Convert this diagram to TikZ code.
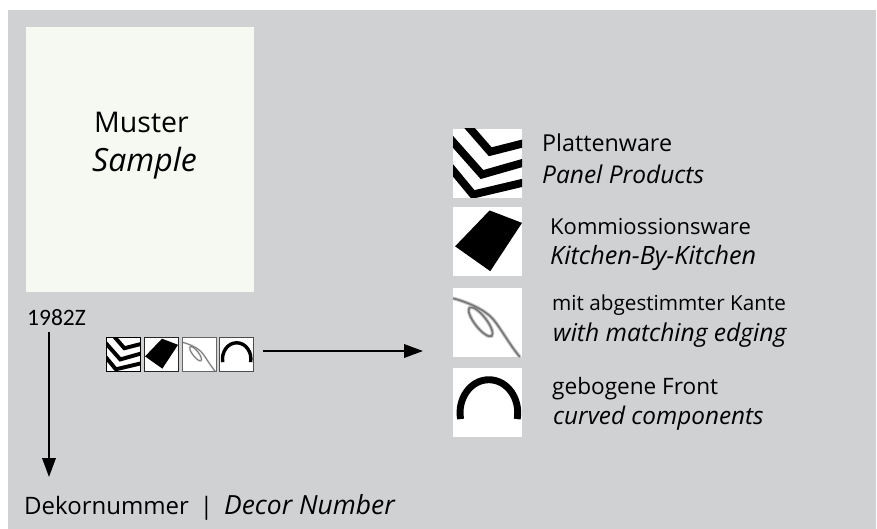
\documentclass[tikz,border=0pt]{standalone}
\usepackage{fontspec}
\setmainfont{Open Sans}
\newfontfamily\calib{Carlito}
\usetikzlibrary{arrows.meta}
\newcommand{\iconChev}[3]{\begin{scope}[shift={(#1,#2)},x=#3pt,y=-#3pt]
  \fill[white] (0,0) rectangle (1,1);
  \begin{scope}
  \clip (0,0) rectangle (1,1);
  \draw[black,line width=#3*0.115pt] (0.2,-0.06) -- (0.54,0.33) -- (1.05,0.2);
  \draw[black,line width=#3*0.115pt] (-0.05,0.13) -- (0.42,0.66) -- (1.05,0.48);
  \draw[black,line width=#3*0.115pt] (-0.05,0.54) -- (0.29,0.95) -- (1.05,0.77);
  \end{scope}
\end{scope}}
\newcommand{\iconKite}[3]{\begin{scope}[shift={(#1,#2)},x=#3pt,y=-#3pt]
  \fill[white] (0,0) rectangle (1,1);
  \fill[black] (0.53,0.05) -- (1,0.23) -- (0.54,0.93) -- (0.03,0.57) -- cycle;
\end{scope}}
\newcommand{\iconEdge}[3]{\begin{scope}[shift={(#1,#2)},x=#3pt,y=-#3pt]
  \fill[white] (0,0) rectangle (1,1);
  \foreach \c/\w in {edgehalo/0.055,edgegray/0.025}{
  \draw[\c,line width=#3*\w pt] (0,0.15) .. controls (0.2,0.2) and (0.42,0.3) .. (0.54,0.41) .. controls (0.66,0.52) and (0.8,0.8) .. (0.97,1);
  \draw[\c,line width=#3*\w pt,rotate around={-52:(0.4,0.49)}] (0.4,0.49) ellipse (0.26 and 0.085);
  }
\end{scope}}
\newcommand{\iconArc}[3]{\begin{scope}[shift={(#1,#2)},x=#3pt,y=-#3pt]
  \fill[white] (0,0) rectangle (1,1);
  \draw[black,line width=#3*0.1pt] (0.11,0.74) .. controls (0.06,0.45) and (0.25,0.17) .. (0.52,0.17) .. controls (0.79,0.17) and (0.98,0.45) .. (0.93,0.74);
\end{scope}}
\definecolor{bgray}{RGB}{208,209,211}
\definecolor{samplecol}{RGB}{246,249,241}
\definecolor{edgegray}{RGB}{120,120,120}
\definecolor{edgehalo}{RGB}{205,205,205}
\tikzset{
  lbl/.style={anchor=base west,inner sep=0pt,text=black},
  reg/.style={font=\fontsize{#1}{26}\selectfont},
  ita/.style={font=\fontsize{#1}{26}\selectfont\itshape},
  conn/.style={draw=black,line width=2pt,-{Triangle[length=19pt,width=13.5pt]}},
}
\begin{document}
\begin{tikzpicture}[x=1pt,y=-1pt]
\useasboundingbox (0,0) rectangle (877,529);
\fill[white] (0,0) rectangle (877,529);
\fill[bgray] (8,10) rectangle (876,529);
\fill[samplecol] (26,27) rectangle (254,292);
\node[lbl,reg=28.5] (muster) at (94,133) {Muster};
\node[lbl,ita=32] (sample) at (92,172) {Sample};
\node[lbl,font=\calib\fontsize{23.5}{26}\selectfont] (code) at (27,325) {1982Z};
\node[lbl,reg=24] (decor) at (24,514) {Dekornummer\hspace{11pt}|\hspace{11pt}\fontsize{26.4}{26}\selectfont\itshape Decor Number};
\iconChev{453}{129}{69}
\iconKite{453}{207}{69}
\iconEdge{453}{288}{69}
\iconArc{453}{368}{69}
\iconChev{106}{337}{34}
\iconKite{144}{337}{34}
\iconEdge{182}{337}{34}
\iconArc{219}{337}{34}
\draw[black,line width=0.8pt] (106,337) rectangle (140,371);
\draw[black!85,line width=0.8pt] (144,337) rectangle (178,371);
\draw[black!60,line width=0.8pt] (182,337) rectangle (216,371);
\draw[black!70,line width=0.8pt] (219,337) rectangle (253,371);
\node[lbl,reg=23.3] (a1) at (542,152) {Plattenware};
\node[lbl,ita=24.5] (a2) at (542,184) {Panel Products};
\node[lbl,reg=22] (b1) at (550,235) {Kommiossionsware};
\node[lbl,ita=25.2] (b2) at (550,264) {Kitchen-By-Kitchen};
\node[lbl,reg=20.7] (c1) at (552,310) {mit abgestimmter Kante};
\node[lbl,ita=24.6] (c2) at (553,341) {with matching edging};
\node[lbl,reg=22.6] (d1) at (552,394) {gebogene Front};
\node[lbl,ita=24.3] (d2) at (553,424) {curved components};
\coordinate (c1982) at (49,332);
\coordinate (cdecor) at (49,477);
\coordinate (crow) at (263,351);
\coordinate (ccol) at (423,351);
\draw[conn] (c1982) -- (cdecor);
\draw[conn] (crow) -- (ccol);
\end{tikzpicture}
\end{document}
